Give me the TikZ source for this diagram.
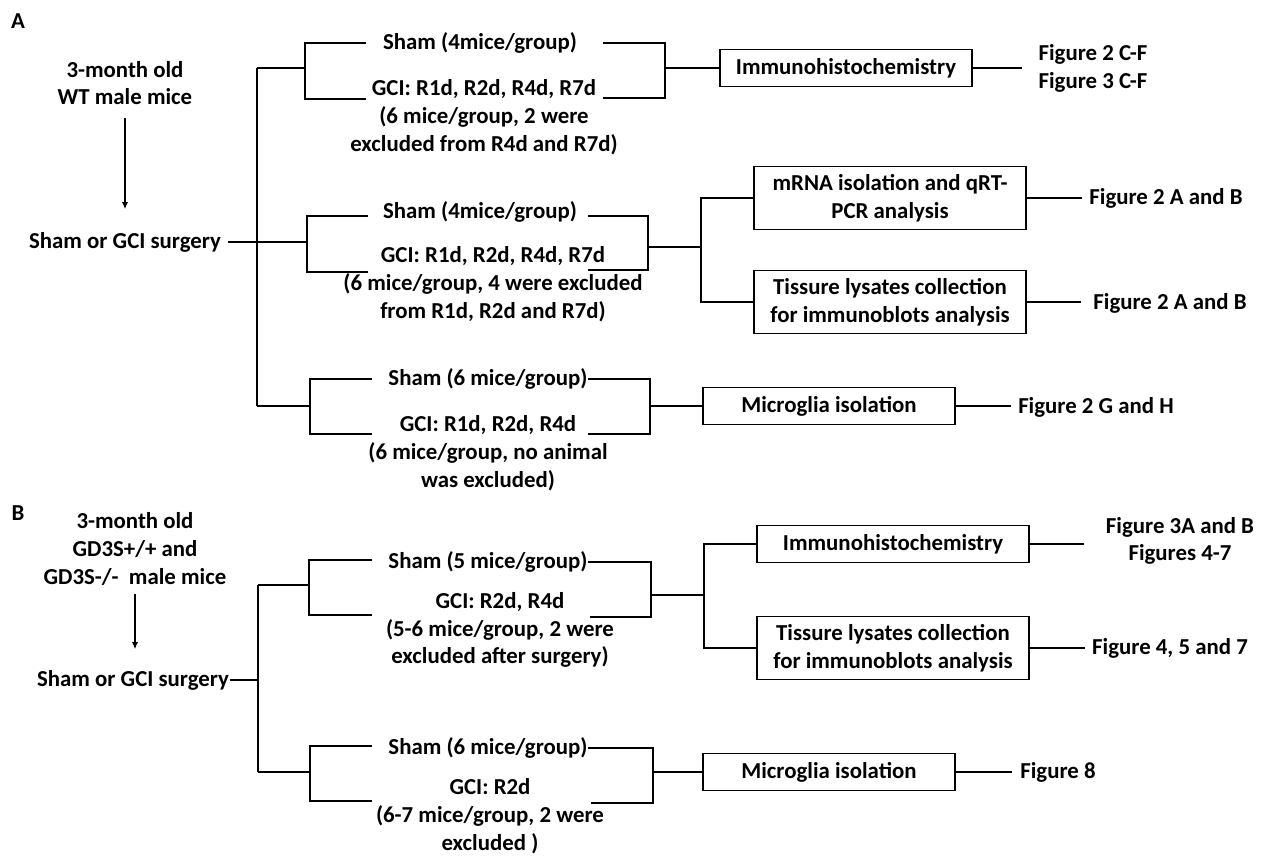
\documentclass[tikz,border=0pt]{standalone}
\usepackage{fontspec}
\setmainfont{Carlito}
\usetikzlibrary{arrows.meta}

\begin{document}
\begin{tikzpicture}[x=0.02cm, y=0.02cm, line width=0.9pt]
\tikzstyle{every node}+=[inner sep=0pt, align=center, font=\fontsize{13}{15.8}\selectfont\bfseries]
\tikzstyle{box}=[draw, minimum height=0.74cm, minimum width=5.04cm]
\tikzstyle{wbox}=[draw, minimum height=1.26cm, minimum width=5.44cm]
\tikzstyle{arr}=[-{Latex[length=4pt,width=3.5pt]}]

\useasboundingbox (0,0) rectangle (1270,-857);

% panel A
\node (labA) at (18,-21) {A};
\node (startA) at (125,-83) {3-month old\\WT male mice};
\node (surgA) at (125,-242) {Sham or GCI surgery};
\draw[arr, shorten <=0.24cm, shorten >=0.44cm] (startA) -- (surgA);

\coordinate (trA1) at (257,-68);
\coordinate (trA3) at (257,-406);
\coordinate (jA1) at (305,-68);
\coordinate (jA2) at (307,-242);
\coordinate (jA3) at (310,-406);
\draw (trA1) -- (trA3);
\draw (trA1) -- (jA1);
\draw (trA3) -- (jA3);
\draw[shorten <=0.12cm] (surgA.east) -- (jA2);

% A, first branch
\node (shamA1) at (480,-43) {Sham (4mice/group)};
\node (gciA1) at (484,-117) {GCI: R1d, R2d, R4d, R7d\\(6 mice/group, 2 were\\excluded from R4d and R7d)};
\coordinate (sA1l) at (366,-43);
\coordinate (gA1l) at (366,-99);
\coordinate (sA1r) at (603,-43);
\coordinate (gA1r) at (603,-98);
\coordinate (kA1) at (665,-68);
\draw (sA1l) -| (jA1) |- (gA1l);
\draw (sA1r) -| (kA1) |- (gA1r);
\node[box] (immA) at (846,-68) {Immunohistochemistry};
\draw (kA1) -- (immA);
\node (figA1) at (1093,-68.5) {Figure 2 C-F\\Figure 3 C-F};
\draw[shorten >=0.32cm] (immA.east) -- (immA.east -| figA1.west);

% A, second branch
\node (shamA2) at (480,-212) {Sham (4mice/group)};
\node (gciA2) at (493,-284) {GCI: R1d, R2d, R4d, R7d\\(6 mice/group, 4 were excluded\\from R1d, R2d and R7d)};
\coordinate (sA2l) at (368,-216);
\coordinate (gA2l) at (368,-272);
\coordinate (sA2r) at (588,-216);
\coordinate (gA2r) at (588,-270);
\coordinate (kA2) at (648,-247);
\coordinate (mA2) at (701,-247);
\draw (sA2l) -| (jA2) |- (gA2l);
\draw (sA2r) -| (kA2) |- (gA2r);
\draw (kA2) -- (mA2);
\node[wbox] (mrnaA) at (890,-198) {mRNA isolation and qRT-\\PCR analysis};
\node[wbox] (tisA) at (890,-302) {Tissure lysates collection\\for immunoblots analysis};
\draw (mrnaA.west) -| (mA2) |- (tisA.west);
\node (figA2) at (1166,-198) {Figure 2 A and B};
\node (figA3) at (1170,-303) {Figure 2 A and B};
\draw[shorten >=0.14cm] (mrnaA.east) -- (mrnaA.east -| figA2.west);
\draw[shorten >=0.24cm] (tisA.east) -- (tisA.east -| figA3.west);

% A, third branch
\node (shamA3) at (488,-379) {Sham (6 mice/group)};
\node (gciA3) at (488,-453) {GCI: R1d, R2d, R4d\\(6 mice/group, no animal\\was excluded)};
\coordinate (sA3l) at (372,-379);
\coordinate (gA3l) at (372,-434);
\coordinate (sA3r) at (588,-379);
\coordinate (gA3r) at (588,-434);
\coordinate (kA3) at (650,-406);
\draw (sA3l) -| (jA3) |- (gA3l);
\draw (sA3r) -| (kA3) |- (gA3r);
\node[box] (micA) at (829,-406) {Microglia isolation};
\draw (kA3) -- (micA);
\node (figA4) at (1096,-407) {Figure 2 G and H};
\draw[shorten >=0.12cm] (micA.east) -- (micA.east -| figA4.west);

% panel B
\node (labB) at (18,-513) {B};
\node (startB) at (135,-549) {3-month old\\GD3S+/+ and\\GD3S-/-\ \ male mice};
\node (surgB) at (133,-680) {Sham or GCI surgery};
\draw[arr, shorten <=0.16cm, shorten >=0.4cm] (startB.south) -- (startB.south |- surgB.north);

\coordinate (trB1) at (258,-585);
\coordinate (trB2) at (258,-772);
\coordinate (jB1) at (309,-585);
\coordinate (jB2) at (310,-772);
\draw (trB1) -- (trB2);
\draw (trB1) -- (jB1);
\draw (trB2) -- (jB2);
\draw (surgB.east) -- (surgB.east -| trB1);

% B, first branch
\node (shamB1) at (488,-562) {Sham (5 mice/group)};
\node (gciB1) at (500,-630) {GCI: R2d, R4d\\(5-6 mice/group, 2 were\\excluded after surgery)};
\coordinate (sB1l) at (372,-560);
\coordinate (gB1l) at (372,-615);
\coordinate (sB1r) at (588,-562);
\coordinate (gB1r) at (590,-617);
\coordinate (kB1) at (651,-595);
\coordinate (mB1) at (704,-595);
\draw (sB1l) -| (jB1) |- (gB1l);
\draw (sB1r) -| (kB1) |- (gB1r);
\draw (kB1) -- (mB1);
\node[wbox, minimum height=0.74cm] (immB) at (893,-544) {Immunohistochemistry};
\node[wbox] (tisB) at (893,-648) {Tissure lysates collection\\for immunoblots analysis};
\draw (immB.west) -| (mB1) |- (tisB.west);
\node (figB1) at (1180,-541) {Figure 3A and B\\Figures 4-7};
\node (figB2) at (1170,-648) {Figure 4, 5 and 7};
\draw[shorten >=0.42cm] (immB.east) -- (immB.east -| figB1.west);
\draw[shorten >=0.12cm] (tisB.east) -- (tisB.east -| figB2.west);

% B, second branch
\node (shamB2) at (488,-748) {Sham (6 mice/group)};
\node (gciB2) at (490,-816) {GCI: R2d\\(6-7 mice/group, 2 were\\excluded )};
\coordinate (sB2l) at (372,-746);
\coordinate (gB2l) at (372,-801);
\coordinate (sB2r) at (588,-748);
\coordinate (gB2r) at (591,-803);
\coordinate (kB2) at (653,-772);
\draw (sB2l) -| (jB2) |- (gB2l);
\draw (sB2r) -| (kB2) |- (gB2r);
\node[box] (micB) at (829,-772) {Microglia isolation};
\draw (kB2) -- (micB);
\node (figB3) at (1058,-772) {Figure 8};
\draw[shorten >=0.16cm] (micB.east) -- (micB.east -| figB3.west);
\end{tikzpicture}
\end{document}
